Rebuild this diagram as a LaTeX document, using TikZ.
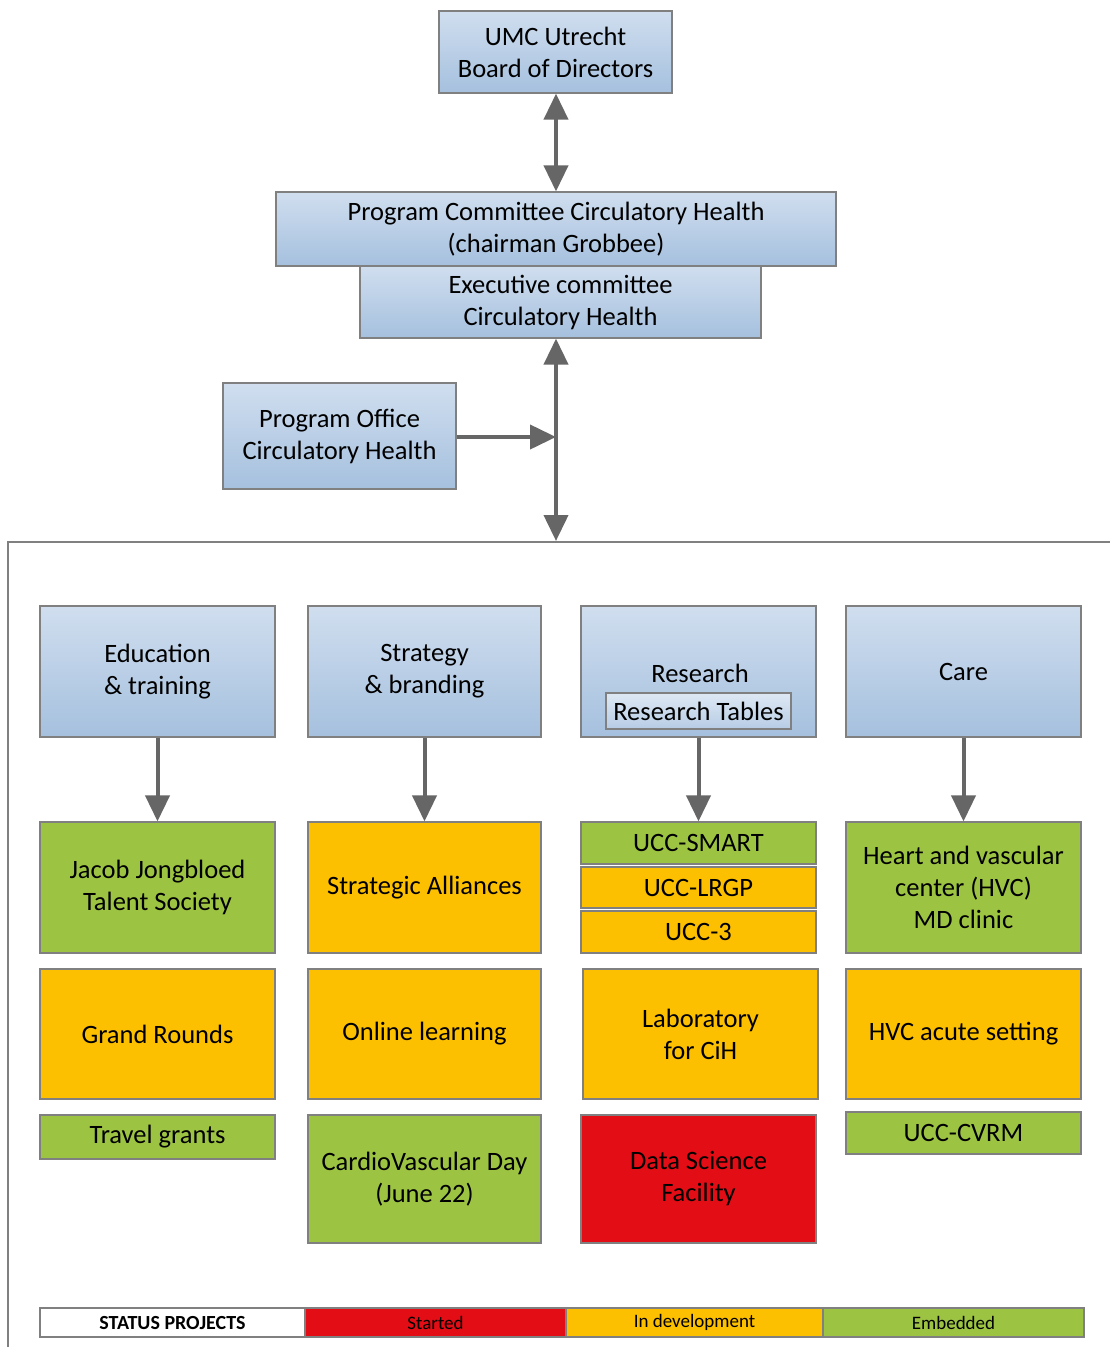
\documentclass[tikz,border=0pt]{standalone}
\usepackage{fontspec}
\setmainfont{Carlito}
\usetikzlibrary{arrows.meta,positioning}
\definecolor{blueTop}{RGB}{208,222,239}
\definecolor{blueBot}{RGB}{165,192,222}
\definecolor{boxEdge}{RGB}{128,128,128}
\definecolor{arrowGray}{RGB}{102,102,102}
\definecolor{cGreen}{RGB}{157,195,67}
\definecolor{cOrange}{RGB}{252,192,0}
\definecolor{cRed}{RGB}{227,13,22}

\tikzset{
  box/.style={rectangle, draw=boxEdge, line width=1.2pt, inner sep=0pt, align=center,
              font=\fontsize{26.5}{32}\selectfont},
  bluebox/.style={box, top color=blueTop, bottom color=blueBot},
  greenbox/.style={box, fill=cGreen},
  orangebox/.style={box, fill=cOrange},
  redbox/.style={box, fill=cRed},
  legendbox/.style={rectangle, draw=boxEdge, line width=1.2pt, inner sep=0pt,
              minimum height=29pt, font=\fontsize{19}{22}\selectfont},
  link/.style={line width=4pt, arrowGray, -{Triangle[length=26pt,width=24pt]}},
  biglink/.style={link, {Triangle[length=26pt,width=24pt]}-{Triangle[length=26pt,width=24pt]}}
}

\begin{document}
\begin{tikzpicture}[x=1pt, y=-1pt]
    \useasboundingbox (0,0) rectangle (1110,1347);

    % governance
    \node[bluebox, minimum width=233pt, minimum height=82pt] (umc) at (555.5,52)
      {UMC Utrecht\\Board of Directors};
    \node[bluebox, minimum width=560pt, minimum height=74pt] (pc) at (556,229)
      {Program Committee Circulatory Health\\(chairman Grobbee)};
    \node[bluebox, minimum width=401pt, minimum height=72pt] (exec) at (560.5,302)
      {Executive committee\\Circulatory Health};
    \node[bluebox, minimum width=233pt, minimum height=106pt] (office) at (339.5,436)
      {Program Office\\Circulatory Health};

    \coordinate (bus) at (556,541);
    \coordinate (join) at (556,437);
    \draw[biglink] (umc.south -| 556,0) -- (pc.north -| 556,0);
    \draw[biglink] (exec.south -| 556,0) -- (bus);
    \draw[link] (office.east |- join) -- (join);

    % frame
    \draw[boxEdge, line width=1.2pt] (1110,542) -- (8,542) -- (8,1347);

    % pillars
    \node[bluebox, minimum width=235pt, minimum height=131pt] (edu) at (157.5,671.5)
      {Education\\\& training};
    \node[bluebox, minimum width=233pt, minimum height=131pt] (strat) at (424.5,671.5)
      {Strategy\\\& branding};
    \node[bluebox, minimum width=235pt, minimum height=131pt] (res) at (698.5,671.5) {};
    \node[box, draw=none, anchor=base] (reslabel) at (700,682) {Research};
    \node[box, top color=blueTop!70!white, bottom color=blueBot!80!white,
          minimum width=185pt, minimum height=36pt] (tables) at (698.5,711)
      {Research Tables};
    \node[bluebox, minimum width=235pt, minimum height=131pt] (care) at (963.5,671.5)
      {Care};

    % projects
    \node[greenbox, minimum width=235pt, minimum height=131pt] (jacob) at (157.5,887.5)
      {Jacob Jongbloed\\Talent Society};
    \node[orangebox, minimum width=233pt, minimum height=131pt] (alliances) at (424.5,887.5)
      {Strategic Alliances};
    \node[greenbox, minimum width=235pt, minimum height=42pt] (smart) at (698.5,843)
      {UCC-SMART};
    \node[orangebox, minimum width=235pt, minimum height=41pt] (lrgp) at (698.5,887.5)
      {UCC-LRGP};
    \node[orangebox, minimum width=235pt, minimum height=42pt] (ucc3) at (698.5,932)
      {UCC-3};
    \node[greenbox, minimum width=235pt, minimum height=131pt] (hvc) at (963.5,887.5)
      {Heart and vascular\\center (HVC)\\MD clinic};

    \node[orangebox, minimum width=235pt, minimum height=130pt] (rounds) at (157.5,1034)
      {Grand Rounds};
    \node[orangebox, minimum width=233pt, minimum height=130pt] (online) at (424.5,1034)
      {Online learning};
    \node[orangebox, minimum width=235pt, minimum height=130pt] (lab) at (700.5,1034)
      {Laboratory\\for CiH};
    \node[orangebox, minimum width=235pt, minimum height=130pt] (acute) at (963.5,1034)
      {HVC acute setting};

    \node[greenbox, minimum width=235pt, minimum height=44pt] (travel) at (157.5,1137)
      {Travel grants};
    \node[greenbox, minimum width=233pt, minimum height=128pt] (cvday) at (424.5,1179)
      {CardioVascular Day\\(June 22)};
    \node[redbox, minimum width=235pt, minimum height=128pt] (dsf) at (698.5,1179)
      {Data Science\\Facility};
    \node[greenbox, minimum width=235pt, minimum height=42pt] (cvrm) at (963.5,1133)
      {UCC-CVRM};

    \foreach \top/\bot in {edu/jacob, strat/alliances, res/smart, care/hvc}
      \draw[link] (\top) -- (\bot);

    % legend
    \node[legendbox, fill=white, minimum width=265pt, font=\fontsize{20}{22}\selectfont\bfseries]
      (status) at (172.5,1322.5) {STATUS PROJECTS};
    \node[legendbox, fill=cRed, minimum width=261pt] (started) at (435.5,1322.5) {Started};
    \node[legendbox, fill=cOrange, minimum width=257pt] (develop) at (694.5,1322.5) {In development};
    \node[legendbox, fill=cGreen, minimum width=261pt] (embedded) at (953.5,1322.5) {Embedded};
  \end{tikzpicture}
\end{document}
